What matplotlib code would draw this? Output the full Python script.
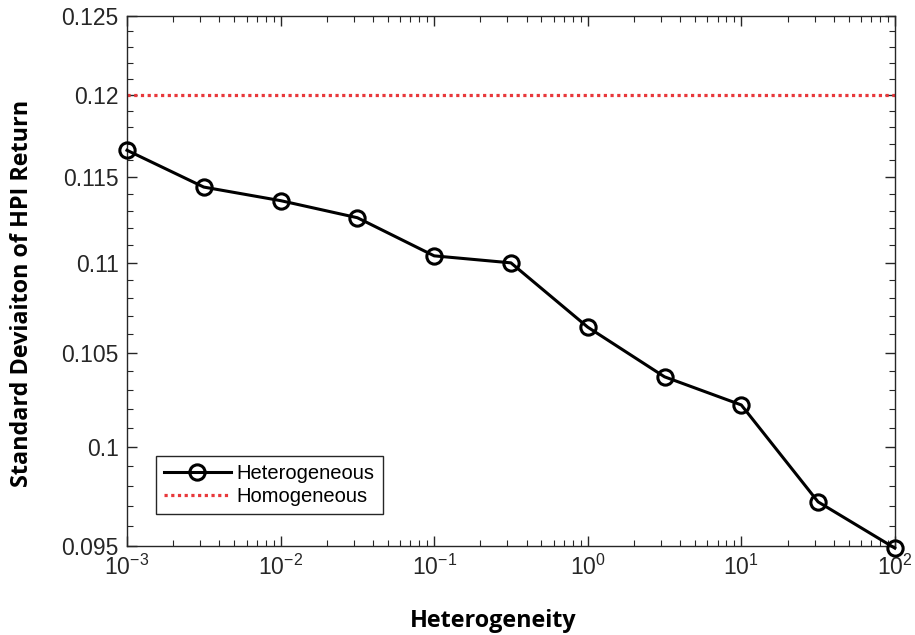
import matplotlib.pyplot as plt
import matplotlib.ticker as mticker
import numpy as np

# data
het_exp = [-3, -2.5, -2, -1.5, -1, -0.5, 0, 0.5, 1, 1.5, 2]   # log10 of heterogeneity
sd_het = [0.1166, 0.1144, 0.1136, 0.1126, 0.1104, 0.1100,
          0.1064, 0.1037, 0.1022, 0.0972, 0.0949]
sd_hom = 0.12
yticks = [0.095, 0.1, 0.105, 0.11, 0.115, 0.12, 0.125]
xtick_exp = [-3, -2, -1, 0, 1, 2]

x = [10.0 ** e for e in het_exp]

plt.rcParams['font.family'] = ['Liberation Sans', 'DejaVu Sans']
plt.rcParams['mathtext.default'] = 'regular'

fig = plt.figure(figsize=(9.15, 6.35), dpi=100)
ax = fig.add_axes([0.1388, 0.140, 0.978 - 0.1388, 0.975 - 0.140])

ax.plot(x, sd_het, color='black', lw=2.2, marker='o', ms=11, mfc='none',
        mew=2.2, label='Heterogeneous', clip_on=False, zorder=3)
ax.axhline(sd_hom, color='#e8383b', lw=2.3, ls=(0, (1, 1.1)), label='Homogeneous')

ax.set_xscale('log')
ax.set_yscale('log')
ax.set_xlim(1e-3, 1e2)
ax.set_ylim(0.095, 0.125)

ax.set_xticks([10.0 ** e for e in xtick_exp])
ax.set_xticklabels(['$10^{%d}$' % e for e in xtick_exp])
ax.xaxis.set_minor_locator(mticker.LogLocator(base=10, subs=np.arange(2, 10)))
ax.xaxis.set_minor_formatter(mticker.NullFormatter())

ax.set_yticks(yticks)
ax.set_yticklabels(['%g' % v for v in yticks])
ax.yaxis.set_minor_locator(mticker.FixedLocator(np.arange(0.095, 0.1251, 0.001)))
ax.yaxis.set_minor_formatter(mticker.NullFormatter())

for s in ax.spines.values():
    s.set_color('#262626')
    s.set_linewidth(1.0)
ax.tick_params(which='both', direction='in', top=True, right=True, colors='#262626',
               labelsize=16.5, labelcolor='#262626')
ax.tick_params(which='major', length=7, width=1.0, pad=6)
ax.tick_params(which='minor', length=4, width=0.8)

ax.set_xlabel('Heterogeneity', fontsize=16.8, fontweight='bold',
              family=['Open Sans', 'DejaVu Sans'], va='baseline')
ax.xaxis.set_label_coords(0.4766, -0.153)
ax.set_ylabel('Standard Deviaiton of HPI Return', fontsize=16.8, fontweight='bold',
              family=['Open Sans', 'DejaVu Sans'], va='center')
ax.yaxis.set_label_coords(-0.137, 0.477)

leg = ax.legend(loc='lower left', bbox_to_anchor=(0.0378, 0.060), borderaxespad=0,
                fontsize=14.5, handlelength=3.3, fancybox=False, framealpha=1,
                borderpad=0.4, labelspacing=0.2, handletextpad=0.3)
leg.get_frame().set_edgecolor('#262626')
leg.get_frame().set_linewidth(1.0)

fig.savefig('out.png', dpi=100)
